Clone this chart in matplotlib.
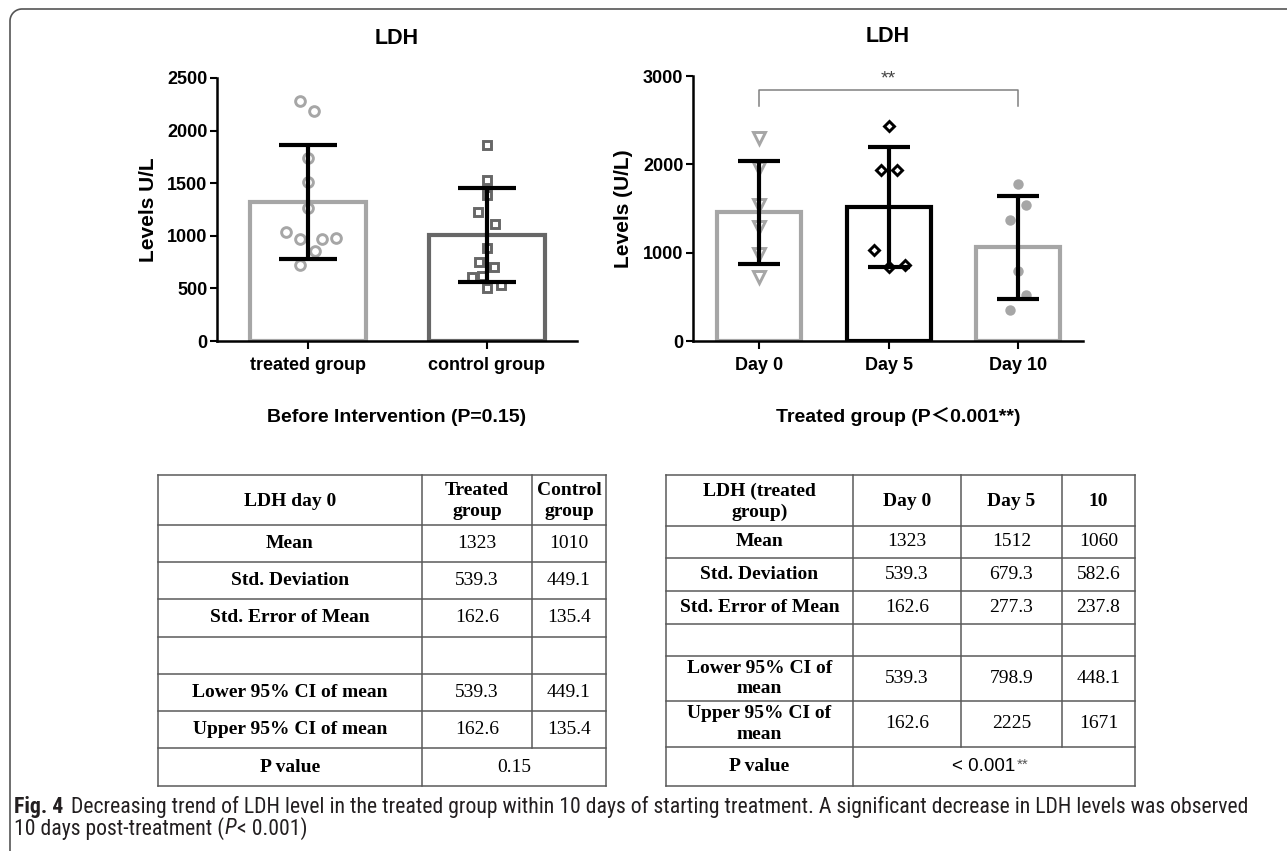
import matplotlib
matplotlib.use('Agg')
import numpy as np
import matplotlib.pyplot as plt
from matplotlib import font_manager

plt.rcParams['font.family'] = ['Liberation Sans', 'DejaVu Sans']

# ---- left chart: before intervention ----
before_groups = ['treated group', 'control group']
before_means = [1323, 1010]
before_sd = [539.3, 449.1]
treated_pts = [2278, 2189, 1744, 1515, 1261, 1033, 969, 969, 975, 858, 721]
treated_jitter = [-0.043, 0.034, 0, 0, 0, -0.123, -0.045, 0.078, 0.156, 0.039, -0.045]
control_pts = [1859, 1530, 1388, 1229, 1109, 881, 754, 700, 611, 620, 500, 532]
control_jitter = [0, 0, 0, -0.05, 0.045, 0, -0.045, 0.04, -0.084, -0.03, 0, 0.08]

# ---- right chart: treated group over time ----
days = ['Day 0', 'Day 5', 'Day 10']
day_means = [1455, 1512, 1060]
day_sd = [585, 679.3, 582.6]
day0_pts = [2293, 1953, 1538, 1292, 990, 725]
day0_jitter = [0, 0, 0, 0, 0, 0]
day5_pts = [2433, 1934, 1934, 1028, 839, 865]
day5_jitter = [0, -0.062, 0.062, -0.116, 0, 0.124]
day10_pts = [1772, 1538, 1375, 793, 525, 348]
day10_jitter = [0, 0.062, -0.062, 0, 0.062, -0.062]
bracket_top = 2841
bracket_end = 2660

# ---- tables ----
left_header = ['LDH day 0', 'Treated\ngroup', 'Control\ngroup']
left_rows = ['Mean', 'Std. Deviation', 'Std. Error of Mean', '',
             'Lower 95% CI of mean', 'Upper 95% CI of mean']
left_treated = ['1323', '539.3', '162.6', '', '539.3', '162.6']
left_control = ['1010', '449.1', '135.4', '', '449.1', '135.4']
left_p = '0.15'

right_header = ['LDH (treated\ngroup)', 'Day 0', 'Day 5', '10']
right_rows = ['Mean', 'Std. Deviation', 'Std. Error of Mean', '',
              'Lower 95% CI of\nmean', 'Upper 95% CI of\nmean']
right_day0 = ['1323', '539.3', '162.6', '', '539.3', '162.6']
right_day5 = ['1512', '679.3', '277.3', '', '798.9', '2225']
right_day10 = ['1060', '582.6', '237.8', '', '448.1', '1671']
right_p = '< 0.001'

LIGHT = '#a6a6a6'
DARK = '#676767'
LINE = '#5a5a5a'
SERIF = ['Liberation Serif', 'DejaVu Serif']

W, H = 1287, 851
fig = plt.figure(figsize=(W / 100, H / 100), dpi=100)
renderer = fig.canvas.get_renderer()

# overlay axes in pixel coordinates (y downwards) for tables / texts
over = fig.add_axes([0, 0, 1, 1])
over.set_xlim(0, W)
over.set_ylim(H, 0)
over.axis('off')


def px_box(x0, y0, x1, y1):
    return [x0 / W, 1 - y1 / H, (x1 - x0) / W, (y1 - y0) / H]


def style_axes(ax, ylim, yticks, labels, xlim):
    ax.set_xlim(*xlim)
    ax.set_ylim(*ylim)
    ax.set_yticks(yticks)
    ax.set_xticks(range(len(labels)))
    ax.set_xticklabels(labels)
    for s in ['top', 'right']:
        ax.spines[s].set_visible(False)
    for s in ['left', 'bottom']:
        ax.spines[s].set_linewidth(1.8)
    ax.tick_params(axis='y', direction='out', length=5, width=1.5, labelsize=13, pad=2)
    ax.tick_params(axis='x', direction='out', length=5.5, width=1.5, labelsize=13, pad=6)
    for lab in ax.get_xticklabels() + ax.get_yticklabels():
        lab.set_fontweight('bold')


def dots(ax, xpos, pts, jitter, **kw):
    xs = [xpos + j for j in jitter]
    ax.plot(xs, pts, linestyle='none', zorder=3, clip_on=False, **kw)


# ---------- left chart ----------
ax1 = fig.add_axes(px_box(217, 78, 577, 341))
x1 = list(range(len(before_groups)))
ax1.bar(x1, before_means, width=0.65, facecolor='white',
        edgecolor=[LIGHT, DARK], linewidth=3, zorder=2)
dots(ax1, 0, treated_pts, treated_jitter, marker='o', ms=7, mfc='none', mec=LIGHT, mew=2.1)
dots(ax1, 1, control_pts, control_jitter, marker='s', ms=6, mfc='none', mec=DARK, mew=2.1)
ax1.errorbar(x1, before_means, yerr=before_sd, fmt='none', ecolor='black',
             elinewidth=3, capsize=21, capthick=3, zorder=5)
style_axes(ax1, (0, 2500), range(0, 2501, 500), before_groups, (-0.508, 1.503))
ax1.set_ylabel('Levels U/L', fontsize=15, fontweight='bold')
ax1.yaxis.set_label_coords(-0.164, 0.5)

# ---------- right chart ----------
ax2 = fig.add_axes(px_box(693, 76, 1083, 341))
x2 = list(range(len(days)))
ax2.bar(x2, day_means, width=0.65, facecolor='white',
        edgecolor=[LIGHT, 'black', LIGHT], linewidth=3, zorder=2)
dots(ax2, 0, day0_pts, day0_jitter, marker='v', ms=8.5, mfc='none', mec=LIGHT, mew=2.1)
dots(ax2, 1, day5_pts, day5_jitter, marker='D', ms=5.5, mfc='none', mec='black', mew=2.1)
dots(ax2, 2, day10_pts, day10_jitter, marker='o', ms=7.5, mfc=LIGHT, mec=LIGHT, mew=0)
ax2.errorbar(x2, day_means, yerr=day_sd, fmt='none', ecolor='black',
             elinewidth=3, capsize=15, capthick=3, zorder=5)
style_axes(ax2, (0, 3000), range(0, 3001, 1000), days, (-0.51, 2.50))
ax2.set_ylabel('Levels (U/L)', fontsize=15, fontweight='bold')
ax2.yaxis.set_label_coords(-0.154, 0.5)
# significance bracket Day 0 vs Day 10
ax2.plot([0, 0, 2, 2], [bracket_end, bracket_top, bracket_top, bracket_end],
         color='#808080', lw=1.1, clip_on=False, zorder=6)
ax2.text(1, bracket_top + 30, '**', ha='center', va='bottom', fontsize=14, color='#444444')

# titles and subtitles
over.text(397, 38, 'LDH', ha='center', va='center', fontsize=15.5, fontweight='bold')
over.text(888, 37, 'LDH', ha='center', va='center', fontsize=15.5, fontweight='bold')
over.text(397, 417, 'Before Intervention (P=0.15)', ha='center', va='center',
          fontsize=14, fontweight='bold')
over.text(898, 417, 'Treated group (P\uff1c0.001**)', ha='center', va='center',
          fontsize=14, fontweight='bold',
          family=['Liberation Sans', 'Noto Sans CJK SC', 'DejaVu Sans'])


# ---------- tables ----------
def draw_table(ax, xs, ys, header, rows, cols):
    fs = 14
    for y in ys:
        ax.plot([xs[0], xs[-1]], [y, y], color=LINE, lw=1.1, solid_capstyle='projecting')
    for i, x in enumerate(xs):
        bottom = ys[-1] if i in (0, 1, len(xs) - 1) else ys[-2]
        ax.plot([x, x], [ys[0], bottom], color=LINE, lw=1.1, solid_capstyle='projecting')
    for j, txt in enumerate(header):
        ax.text((xs[j] + xs[j + 1]) / 2, (ys[0] + ys[1]) / 2 + 1, txt, ha='center', va='center',
                family=SERIF, fontsize=fs, fontweight='bold', linespacing=1.3)
    for i, lab in enumerate(rows):
        cy = (ys[i + 1] + ys[i + 2]) / 2
        ax.text((xs[0] + xs[1]) / 2, cy, lab, ha='center', va='center',
                family=SERIF, fontsize=fs, fontweight='bold', linespacing=1.25)
        for j, col in enumerate(cols):
            ax.text((xs[j + 1] + xs[j + 2]) / 2, cy, col[i], ha='center', va='center',
                    family=SERIF, fontsize=fs)
    cy = (ys[-2] + ys[-1]) / 2
    ax.text((xs[0] + xs[1]) / 2, cy, 'P value', ha='center', va='center',
            family=SERIF, fontsize=fs, fontweight='bold')
    return (xs[1] + xs[-1]) / 2, cy


lx = [158, 422, 532, 606]
ly = [475, 525, 562, 599, 637, 674, 711, 748, 786]
cx, cy = draw_table(over, lx, ly, left_header, left_rows, [left_treated, left_control])
over.text(cx, cy, left_p, ha='center', va='center', family=SERIF, fontsize=14)

rx = [666, 853, 961, 1062, 1135]
ry = [475, 526, 558, 591, 624, 656, 701, 747, 786]
cx, cy = draw_table(over, rx, ry, right_header, right_rows,
                    [right_day0, right_day5, right_day10])
tp = over.text(cx - 10, cy, right_p, ha='center', va='center', fontsize=13.5)
bb = tp.get_window_extent(renderer)
over.text(bb.x1 + 1, cy - 2, '**', ha='left', va='center', fontsize=11, color='#555555')

# ---------- outer frame (top + left with rounded corner) ----------
r = 12
theta = np.linspace(np.pi, 1.5 * np.pi, 20)
arc_x = 10 + r + r * np.cos(theta)
arc_y = 9 + r + r * np.sin(theta)
over.plot(np.r_[10, arc_x, W + 5], np.r_[H + 5, arc_y, 9], color='#555555', lw=1.2)

# ---------- caption (look for a narrow sans face) ----------
CAP = None
CAP_STRETCH = 'normal'
for name in ['Liberation Sans Narrow', 'Roboto Condensed', 'Open Sans Condensed']:
    try:
        font_manager.findfont(font_manager.FontProperties(family=name),
                              fallback_to_default=False)
        CAP = [name, 'DejaVu Sans']
        break
    except Exception:
        pass
if CAP is None:
    path = font_manager.findfont(font_manager.FontProperties(family='DejaVu Sans',
                                                             stretch='condensed'))
    if 'Condensed' in path:
        CAP = ['DejaVu Sans']
        CAP_STRETCH = 'condensed'
    else:
        CAP = ['Liberation Sans', 'DejaVu Sans']

line1 = [('Fig. 4', 'bold', 'normal', 8),
         ('Decreasing trend of LDH level in the treated group within 10 days of starting '
          'treatment. A significant decrease in LDH levels was observed', 'normal', 'normal', 0)]
line2 = [('10 days post-treatment (', 'normal', 'normal', 0),
         ('P', 'normal', 'italic', 1),
         ('< 0.001)', 'normal', 'normal', 0)]


def chain(pieces, x, y, fs):
    made = []
    for txt, weight, style, gap in pieces:
        t = over.text(x, y, txt, fontsize=fs, fontweight=weight, fontstyle=style,
                      fontstretch=CAP_STRETCH, family=CAP, va='center', ha='left',
                      color='#231f20')
        x = t.get_window_extent(renderer).x1 + gap
        made.append(t)
    return made, x


# fit the first caption line to the width it has in the reference
fs = 12
made, end = chain(line1, 14, 808, fs)
for t in made:
    t.remove()
fs = fs * (1254 - 14) / (end - 14)
chain(line1, 14, 807, fs)
chain(line2, 14, 829, fs)

fig.savefig('out.png', dpi=100)
